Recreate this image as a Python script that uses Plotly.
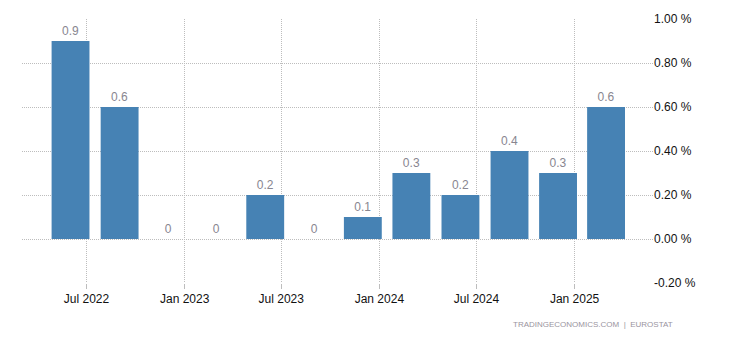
import plotly.graph_objects as go

# Quarterly growth, % change on previous quarter
dates = ["2022-06-01", "2022-09-01", "2022-12-01", "2023-03-01", "2023-06-01",
         "2023-09-01", "2023-12-01", "2024-03-01", "2024-06-01", "2024-09-01",
         "2024-12-01", "2025-03-01"]
values = [0.9, 0.6, 0.0, 0.0, 0.2, 0.0, 0.1, 0.3, 0.2, 0.4, 0.3, 0.6]
value_labels = ["0.9", "0.6", "0", "0", "0.2", "0", "0.1", "0.3", "0.2", "0.4", "0.3", "0.6"]

x_tick_dates = ["2022-07-01", "2023-01-01", "2023-07-01", "2024-01-01", "2024-07-01", "2025-01-01"]
x_tick_labels = ["Jul 2022", "Jan 2023", "Jul 2023", "Jan 2024", "Jul 2024", "Jan 2025"]
y_ticks = [-0.2, 0.0, 0.2, 0.4, 0.6, 0.8, 1.0]

FONT = "Arial, Liberation Sans, sans-serif"
DAY_MS = 86400000
GRID = "#bdbdbd"

fig = go.Figure(
    go.Bar(
        x=dates,
        y=values,
        text=value_labels,
        textposition="outside",
        textfont=dict(family=FONT, size=12, color="#888690"),
        cliponaxis=False,
        marker=dict(color="#4682b4", line=dict(width=0)),
        width=71 * DAY_MS,
        hoverinfo="skip",
    )
)

fig.update_layout(
    width=730,
    height=340,
    margin=dict(l=22, r=77, t=19, b=57),
    paper_bgcolor="white",
    plot_bgcolor="white",
    showlegend=False,
    font=dict(family=FONT, size=12, color="#111111"),
    xaxis=dict(
        type="date",
        range=["2022-03-02", "2025-05-28"],
        tickmode="array",
        tickvals=x_tick_dates,
        ticktext=x_tick_labels,
        showgrid=True,
        gridcolor=GRID,
        griddash="1px,1px",
        gridwidth=1,
        ticks="outside",
        ticklen=5,
        tickcolor=GRID,
        showline=False,
        zeroline=False,
        tickfont=dict(family=FONT, size=12, color="#111111"),
    ),
    yaxis=dict(
        side="right",
        range=[-0.2, 1.0],
        tickmode="array",
        tickvals=y_ticks,
        ticktext=[f"{v:.2f} %" for v in y_ticks],
        showgrid=True,
        gridcolor=GRID,
        griddash="1px,1px",
        gridwidth=1,
        zeroline=False,
        showline=False,
        ticks="",
        tickfont=dict(family=FONT, size=12, color="#111111"),
    ),
    annotations=[
        dict(
            text="TRADINGECONOMICS.COM  |  EUROSTAT",
            xref="paper", yref="paper",
            x=1.0, y=-0.159,
            xanchor="right", yanchor="middle",
            xshift=22,
            showarrow=False,
            font=dict(family=FONT, size=8, color="#9a94a0"),
        )
    ],
)

fig.write_html("out.html")
